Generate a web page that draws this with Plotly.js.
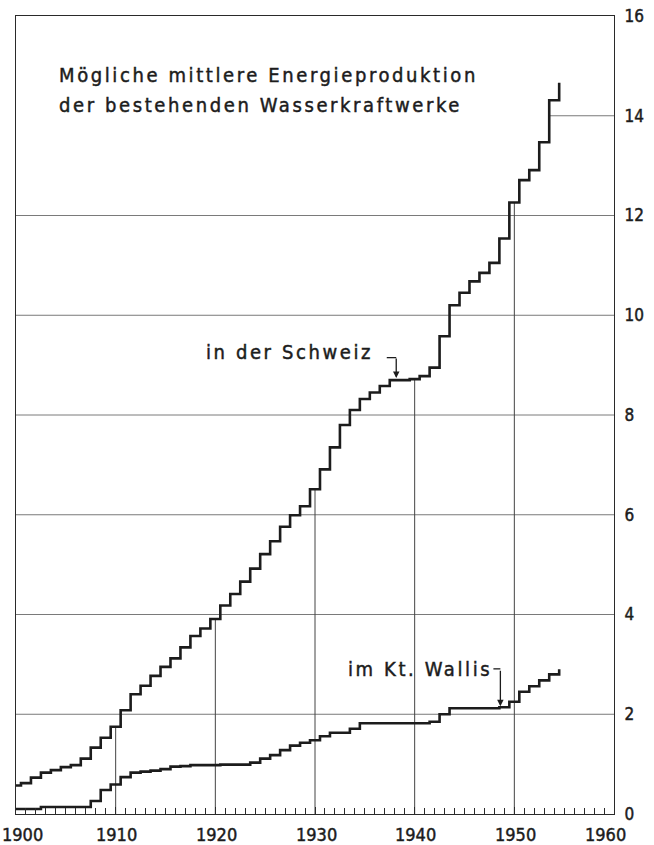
<!DOCTYPE html>
<html>
<head>
<meta charset="utf-8">
<script src="https://cdn.plot.ly/plotly-3.0.1.min.js"></script>
<style>
  html, body { margin: 0; padding: 0; background: #fff; }
  #chart { width: 654px; height: 845px; }
  .annotation-text, .ytick text { stroke: #1c1c1c; stroke-width: 0.45px; }
</style>
</head>
<body>
<div id="chart"></div>
<script>
// ---- Data ----
const years = [1900,1901,1902,1903,1904,1905,1906,1907,1908,1909,
               1910,1911,1912,1913,1914,1915,1916,1917,1918,1919,
               1920,1921,1922,1923,1924,1925,1926,1927,1928,1929,
               1930,1931,1932,1933,1934,1935,1936,1937,1938,1939,
               1940,1941,1942,1943,1944,1945,1946,1947,1948,1949,
               1950,1951,1952,1953,1954,1955];

// Mögliche mittlere Energieproduktion – in der Schweiz (Mrd. kWh)
const schweiz = [0.57,0.62,0.73,0.83,0.88,0.94,0.98,1.11,1.33,1.53,
                 1.75,2.08,2.40,2.57,2.77,2.95,3.12,3.34,3.57,3.72,
                 3.91,4.18,4.41,4.66,4.92,5.21,5.47,5.76,5.99,6.17,
                 6.51,6.91,7.35,7.80,8.10,8.32,8.45,8.58,8.70,8.70,
                 8.72,8.78,8.95,9.58,10.20,10.45,10.68,10.85,11.05,11.54,
                 12.26,12.71,12.91,13.47,14.31,14.66];

// – im Kanton Wallis
const wallis = [0.10,0.10,0.10,0.14,0.14,0.14,0.14,0.14,0.26,0.48,
                0.59,0.74,0.83,0.85,0.87,0.90,0.95,0.96,0.98,0.98,
                0.98,0.99,0.99,0.99,1.03,1.11,1.18,1.28,1.37,1.43,
                1.48,1.56,1.63,1.63,1.71,1.82,1.82,1.82,1.82,1.82,
                1.82,1.82,1.85,2.00,2.12,2.12,2.12,2.12,2.12,2.14,
                2.25,2.45,2.56,2.68,2.80,2.90];

const titleLines = ["Mögliche mittlere Energieproduktion",
                    "der bestehenden Wasserkraftwerke"];
const seriesLabels = ["in der Schweiz", "im Kt. Wallis"];
const xTickVals = [1900,1910,1920,1930,1940,1950,1960];
const xTickText = ["1900","1910","1920","1930","1940","1950","1960"];
const yTickVals = [0,2,4,6,8,10,12,14,16];

// ---- Styling ----
const INK = '#1c1c1c';
const GRID = '#7a7a7a';
const FONT = '"Liberation Sans Narrow", "DejaVu Sans Condensed", sans-serif';
const spaced = s => '<span style="letter-spacing:2.6px">' + s + '</span>';

// each year's value is centred on the year: step begins half a year earlier
const stepX = years.map(y => y - 0.5);

const traces = [
  { x: stepX, y: schweiz, type: 'scatter', mode: 'lines', name: seriesLabels[0],
    line: { shape: 'hv', color: INK, width: 2.6 }, hoverinfo: 'x+y' },
  { x: stepX, y: wallis, type: 'scatter', mode: 'lines', name: seriesLabels[1],
    line: { shape: 'hv', color: INK, width: 2.6 }, hoverinfo: 'x+y' }
];

const valueAt = (arr, yr) => arr[years.indexOf(yr)];

const shapes = [];
// horizontal grid lines 2..12 across the whole plot
yTickVals.filter(v => v > 0 && v < 14).forEach(v => {
  shapes.push({ type: 'line', xref: 'paper', yref: 'y', x0: 0, x1: 1, y0: v, y1: v,
                line: { color: GRID, width: 1 }, layer: 'below' });
});
// the 14 line only runs from the curve to the right border
const i14 = schweiz.findIndex(v => v >= 14);
shapes.push({ type: 'line', xref: 'x', yref: 'y', x0: stepX[i14], x1: 1960, y0: 14, y1: 14,
              line: { color: GRID, width: 1 }, layer: 'below' });
// decade verticals rise from the axis up to the Swiss curve
xTickVals.filter(v => v > 1900 && v < 1960).forEach(yr => {
  shapes.push({ type: 'line', xref: 'x', yref: 'y', x0: yr, x1: yr, y0: 0, y1: valueAt(schweiz, yr),
                line: { color: '#444', width: 1 }, layer: 'below' });
});

// label hooks (horizontal part)
const hookS = { x: 1938.15, y: valueAt(schweiz, 1938) };
const hookW = { x: 1948.6, y: valueAt(wallis, 1948) };
shapes.push({ type: 'line', xref: 'x', yref: 'y', x0: hookS.x - 0.95, x1: hookS.x, y0: 9.15, y1: 9.15,
              line: { color: INK, width: 1.3 } });
shapes.push({ type: 'line', xref: 'x', yref: 'y', x0: hookW.x - 0.7, x1: hookW.x, y0: 2.91, y1: 2.91,
              line: { color: INK, width: 1.3 } });

const textFont = { family: FONT, size: 20, color: INK };
const tickFont = { family: FONT, size: 18, color: INK };

const annotations = [
  { text: spaced(titleLines[0]), xref: 'paper', yref: 'paper', x: 0.068, y: 0.926,
    xanchor: 'left', yanchor: 'middle', showarrow: false, font: textFont },
  { text: spaced(titleLines[1]), xref: 'paper', yref: 'paper', x: 0.068, y: 0.888,
    xanchor: 'left', yanchor: 'middle', showarrow: false, font: textFont },
  { text: spaced(seriesLabels[0]), xref: 'x', yref: 'y', x: 1918.9, y: 9.26,
    xanchor: 'left', yanchor: 'middle', showarrow: false, font: textFont },
  { text: spaced(seriesLabels[1]), xref: 'x', yref: 'y', x: 1933.1, y: 2.91,
    xanchor: 'left', yanchor: 'middle', showarrow: false, font: textFont },
  // arrows of the hooks
  { text: '', xref: 'x', yref: 'y', x: hookS.x, y: hookS.y + 0.04, ax: 0, ay: -21,
    showarrow: true, arrowhead: 2, arrowsize: 1, arrowwidth: 1.3, arrowcolor: INK, standoff: 0 },
  { text: '', xref: 'x', yref: 'y', x: hookW.x, y: hookW.y + 0.04, ax: 0, ay: -37,
    showarrow: true, arrowhead: 2, arrowsize: 1, arrowwidth: 1.3, arrowcolor: INK, standoff: 0 }
];

// x tick labels as annotations (first kept inside the page, last left of the "0" label)
xTickVals.forEach((v, i) => {
  const first = i === 0, last = i === xTickVals.length - 1;
  annotations.push({ text: xTickText[i], xref: 'x', yref: 'paper',
    x: last ? v - 0.9 : (first ? v + 0.7 : v + 0.1), y: -0.026, xanchor: 'center', yanchor: 'middle',
    showarrow: false, font: tickFont });
});

const layout = {
  width: 654, height: 845, autosize: false,
  margin: { l: 16, r: 40, t: 16, b: 31, pad: 0 },
  paper_bgcolor: '#ffffff', plot_bgcolor: '#ffffff',
  showlegend: false,
  font: { family: FONT, color: INK },
  xaxis: {
    range: [1900, 1960], tickvals: xTickVals, showticklabels: false,
    showgrid: false, zeroline: false,
    showline: true, mirror: true, linecolor: '#2a2a2a', linewidth: 1.4,
    ticks: 'inside', ticklen: 7, tickwidth: 1, tickcolor: '#2a2a2a',
    minor: { dtick: 1, tick0: 1900, ticks: 'inside', ticklen: 6, tickwidth: 1, tickcolor: '#2a2a2a', showgrid: false }
  },
  yaxis: {
    range: [0, 16], tickvals: yTickVals, ticktext: yTickVals.map(String), side: 'right',
    showgrid: false, zeroline: false,
    showline: true, mirror: true, linecolor: '#2a2a2a', linewidth: 1.2,
    ticks: '', ticklabelstandoff: 6,
    tickfont: { family: FONT, size: 17, color: INK }
  },
  shapes: shapes,
  annotations: annotations
};

Plotly.newPlot('chart', traces, layout, { displayModeBar: false, staticPlot: true });
</script>
</body>
</html>
